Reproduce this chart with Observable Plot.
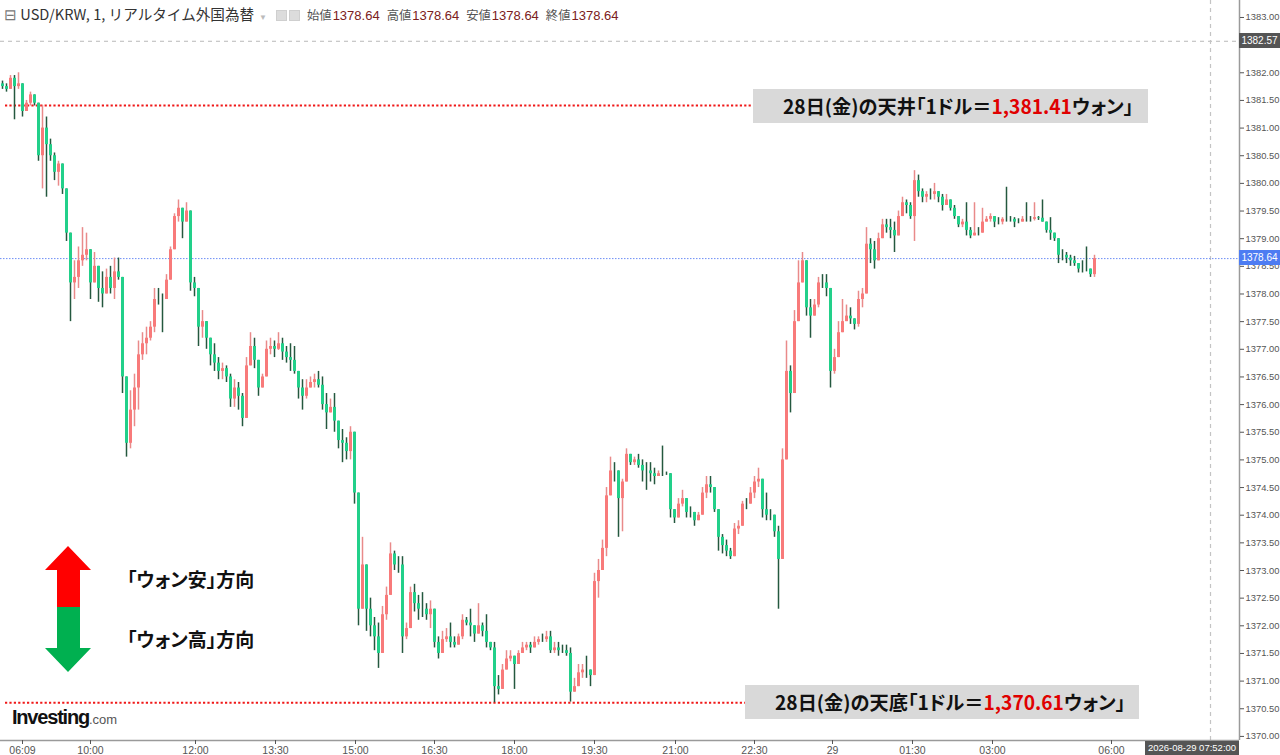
<!DOCTYPE html>
<html><head><meta charset="utf-8">
<script src="https://cdn.jsdelivr.net/npm/d3@7"></script>
<script src="https://cdn.jsdelivr.net/npm/@observablehq/plot@0.6"></script>
<style>
html,body{margin:0;padding:0;background:#fff;}
#wrap{position:relative;width:1280px;height:755px;overflow:hidden;font-family:"Liberation Sans",Arial,sans-serif;}
#wrap svg{position:absolute;left:0;top:0;}
.ov{position:absolute;white-space:nowrap;}
#hdr{left:4px;top:4px;font-size:12px;color:#333;font-family:"Liberation Sans",Arial,sans-serif;line-height:20px;}
#hdr .t{font-family:"Noto Sans CJK JP","Noto Sans",sans-serif;font-size:14.6px;color:#333;}
#hdr .k{color:#555;margin-left:7px;font-family:"Noto Sans CJK JP",sans-serif;font-size:12.3px;}
#hdr .v{color:#7b2020;margin-left:1px;font-size:13px;}
#hdr .ic{display:inline-block;width:9px;height:9px;background:#dcdcdc;border:1px solid #cfcfcf;margin-left:2px;vertical-align:-1px;}
#hdr .car{color:#bbb;font-size:8px;margin:0 7px 0 5px;}
.ann{background:#d9d9d9;font-family:"Noto Sans CJK JP",sans-serif;font-weight:700;font-size:19.2px;color:#111;line-height:34px;height:34px;box-sizing:border-box;font-feature-settings:"palt";}
.ann .r{color:#e00000;}
.leg{font-family:"Noto Sans CJK JP",sans-serif;font-weight:700;font-size:19px;color:#111;font-feature-settings:"palt";}
.albl{font-size:10px;color:#fff;text-align:center;line-height:15px;height:15px;}
#logo{left:12px;top:706px;font-family:"Liberation Sans",Arial,sans-serif;font-weight:700;font-size:20px;letter-spacing:-1.2px;color:#111;}
#logo span{font-weight:400;font-size:13px;color:#555;letter-spacing:0;}
</style></head><body><div id="wrap"></div>
<script>
// ---- data: 4-px bar buckets of USD/KRW 1-minute candles ----
const highs = [
1381.85,1381.80,1381.95,1381.95,1382.00,1381.80,1381.50,1381.65,1381.60,1381.35,
1381.41,1381.20,1380.80,1380.55,1380.40,1380.30,1379.85,1378.90,1378.60,1378.85,
1379.20,1379.10,1378.75,1378.75,1378.50,1378.40,1378.45,1378.50,1378.65,1378.65,
1378.25,1375.85,1376.25,1376.55,1377.15,1377.30,1377.40,1377.50,1378.10,1378.10,
1378.00,1378.35,1378.85,1379.45,1379.70,1379.55,1379.65,1379.35,1378.30,1378.10,
1377.70,1377.50,1377.20,1377.10,1376.85,1376.75,1376.70,1376.55,1376.45,1376.40,
1376.20,1376.85,1377.30,1377.20,1376.60,1376.55,1377.15,1377.20,1377.15,1377.30,
1377.20,1377.05,1377.10,1377.05,1376.55,1376.45,1376.45,1376.50,1376.55,1376.60,
1376.50,1376.20,1376.10,1376.20,1375.60,1375.55,1375.40,1375.60,1375.50,1374.30,
1373.60,1372.70,1372.50,1372.15,1372.05,1372.35,1372.70,1373.50,1373.35,1373.25,
1373.25,1372.05,1372.70,1372.75,1372.55,1372.60,1372.40,1372.45,1372.20,1371.80,
1371.90,1371.95,1372.05,1371.80,1371.85,1372.20,1372.15,1372.30,1372.00,1372.40,
1372.05,1372.20,1371.70,1371.70,1371.10,1371.30,1371.55,1371.55,1371.45,1371.55,
1371.70,1371.70,1371.70,1371.80,1371.80,1371.85,1371.90,1371.90,1371.70,1371.70,
1371.65,1371.65,1371.60,1371.05,1371.30,1371.30,1371.45,1371.20,1372.95,1373.20,
1373.55,1374.50,1375.05,1374.95,1374.65,1374.65,1375.20,1375.05,1375.05,1375.10,
1375.00,1374.95,1374.95,1374.85,1374.80,1375.25,1374.78,1374.45,1374.05,1374.30,
1374.45,1374.15,1374.15,1374.05,1374.05,1374.50,1374.70,1374.70,1374.30,1374.10,
1373.65,1373.55,1373.40,1373.85,1373.90,1374.25,1374.30,1374.50,1374.70,1374.85,
1374.65,1374.40,1374.10,1373.90,1373.80,1375.20,1377.15,1376.70,1377.70,1378.60,
1378.75,1378.10,1377.90,1377.90,1378.30,1378.35,1378.35,1378.00,1377.00,1377.50,
1377.90,1377.80,1377.75,1377.50,1378.05,1378.10,1379.20,1379.00,1378.95,1379.10,
1379.35,1379.35,1379.35,1379.30,1379.50,1379.75,1379.70,1379.65,1380.23,1380.15,
1379.90,1379.85,1379.90,1380.00,1379.85,1379.80,1379.80,1379.62,1379.60,1379.35,
1379.35,1379.65,1379.20,1379.65,1379.20,1379.55,1379.40,1379.45,1379.40,1379.38,
1379.38,1379.93,1379.40,1379.38,1379.36,1379.40,1379.65,1379.40,1379.65,1379.40,
1379.70,1379.30,1379.38,1379.10,1378.85,1378.80,1378.75,1378.70,1378.68,1378.55,
1378.60,1378.85,1378.45,1378.70
];
const lows = [
1381.70,1381.65,1381.70,1381.15,1381.70,1381.20,1381.30,1381.40,1381.40,1380.40,
1379.90,1379.75,1380.40,1380.05,1379.95,1379.80,1378.95,1377.50,1377.90,1378.10,
1378.50,1378.60,1377.90,1378.30,1377.85,1377.75,1378.00,1378.00,1377.90,1378.25,
1376.20,1375.05,1375.20,1375.60,1375.90,1376.80,1376.90,1377.15,1377.30,1377.80,
1377.30,1377.90,1378.30,1379.00,1379.30,1379.00,1379.30,1378.05,1377.95,1377.05,
1377.20,1377.00,1376.70,1376.60,1376.45,1376.45,1376.40,1375.95,1375.95,1375.90,
1375.60,1375.85,1376.90,1376.65,1376.15,1376.30,1376.65,1376.90,1376.85,1376.98,
1376.80,1376.75,1376.60,1376.55,1376.10,1375.90,1376.10,1376.30,1376.30,1376.30,
1375.90,1375.55,1375.85,1375.50,1375.20,1374.95,1375.00,1375.00,1374.20,1372.00,
1372.50,1371.90,1371.80,1371.55,1371.23,1371.90,1372.10,1372.90,1373.00,1372.95,
1371.50,1371.75,1372.05,1372.25,1372.10,1372.15,1372.10,1371.95,1371.60,1371.40,
1371.60,1371.70,1371.60,1371.60,1371.70,1371.75,1372.00,1371.80,1371.70,1371.85,
1371.80,1371.60,1371.55,1370.61,1370.75,1370.85,1371.25,1371.35,1370.85,1371.30,
1371.50,1371.55,1371.50,1371.60,1371.65,1371.70,1371.70,1371.50,1371.50,1371.45,
1371.50,1371.45,1370.62,1370.80,1371.00,1371.05,1371.05,1370.90,1371.70,1372.50,
1373.10,1373.25,1374.50,1374.60,1373.60,1373.70,1374.95,1374.90,1374.90,1374.85,
1374.60,1374.45,1374.60,1374.55,1374.70,1374.70,1374.72,1373.95,1373.85,1374.05,
1374.15,1373.95,1373.95,1373.80,1373.90,1374.05,1374.30,1374.40,1374.05,1373.35,
1373.30,1373.25,1373.20,1373.50,1373.65,1373.90,1374.10,1374.25,1374.30,1374.50,
1373.95,1373.90,1373.90,1373.60,1372.30,1373.20,1375.70,1375.85,1376.55,1377.55,
1378.35,1377.60,1377.20,1377.65,1377.75,1378.10,1377.95,1376.30,1376.55,1377.00,
1377.30,1377.50,1377.45,1377.35,1377.40,1377.75,1378.35,1378.55,1378.45,1378.85,
1379.00,1379.10,1379.00,1378.75,1379.15,1379.50,1379.45,1379.35,1378.95,1379.75,
1379.65,1379.65,1379.70,1379.70,1379.65,1379.50,1379.60,1379.50,1379.35,1379.20,
1379.20,1379.05,1379.00,1379.05,1379.05,1379.15,1379.30,1379.30,1379.20,1379.25,
1379.25,1379.30,1379.30,1379.20,1379.27,1379.30,1379.30,1379.30,1379.32,1379.33,
1379.30,1379.10,1378.97,1378.95,1378.55,1378.60,1378.55,1378.50,1378.50,1378.38,
1378.38,1378.40,1378.30,1378.30
];
const closes = [
1381.75,1381.70,1381.90,1381.75,1381.80,1381.30,1381.45,1381.60,1381.45,1380.50,
1381.00,1380.70,1380.50,1380.20,1380.35,1379.90,1379.10,1378.20,1378.30,1378.60,
1378.70,1378.80,1378.20,1378.50,1378.10,1378.00,1378.30,1378.10,1378.40,1378.30,
1376.50,1375.30,1375.90,1376.30,1376.90,1377.10,1377.20,1377.40,1377.90,1377.90,
1377.90,1378.25,1378.80,1379.40,1379.55,1379.30,1379.50,1378.20,1378.10,1377.40,
1377.50,1377.20,1376.90,1376.75,1376.60,1376.65,1376.50,1376.10,1376.30,1376.15,
1375.75,1376.70,1377.05,1376.80,1376.30,1376.50,1377.00,1377.05,1377.00,1377.10,
1376.95,1376.85,1376.80,1376.60,1376.30,1376.15,1376.30,1376.40,1376.45,1376.35,
1376.00,1375.85,1375.95,1375.70,1375.35,1375.30,1375.15,1375.50,1374.40,1372.30,
1373.10,1372.30,1372.00,1371.80,1371.50,1372.20,1372.55,1373.30,1373.10,1373.10,
1371.80,1371.95,1372.60,1372.40,1372.30,1372.30,1372.20,1372.30,1371.70,1371.50,
1371.75,1371.80,1371.70,1371.65,1371.80,1372.10,1372.05,1372.00,1371.85,1372.00,
1371.90,1371.70,1371.60,1370.90,1370.85,1371.20,1371.40,1371.45,1371.30,1371.50,
1371.60,1371.65,1371.60,1371.70,1371.75,1371.75,1371.80,1371.55,1371.60,1371.55,
1371.55,1371.50,1370.80,1370.90,1371.15,1371.20,1371.20,1371.10,1372.80,1373.00,
1373.40,1374.35,1374.80,1374.80,1374.30,1374.60,1375.10,1374.95,1375.00,1374.90,
1374.80,1374.80,1374.75,1374.70,1374.75,1374.75,1374.75,1374.10,1373.95,1374.20,
1374.30,1374.05,1374.05,1373.90,1374.00,1374.40,1374.55,1374.50,1374.10,1373.60,
1373.45,1373.35,1373.25,1373.75,1373.80,1374.20,1374.20,1374.40,1374.60,1374.65,
1374.10,1374.00,1374.00,1373.70,1373.20,1375.00,1376.60,1376.20,1377.50,1378.20,
1378.60,1377.75,1377.60,1377.80,1378.20,1378.20,1378.10,1376.60,1376.85,1377.30,
1377.50,1377.60,1377.55,1377.45,1377.90,1378.00,1378.90,1378.80,1378.60,1379.00,
1379.25,1379.20,1379.15,1379.05,1379.40,1379.65,1379.60,1379.40,1380.05,1379.85,
1379.75,1379.80,1379.80,1379.85,1379.75,1379.60,1379.70,1379.55,1379.40,1379.25,
1379.30,1379.15,1379.05,1379.10,1379.10,1379.30,1379.35,1379.40,1379.30,1379.30,
1379.35,1379.35,1379.35,1379.30,1379.30,1379.35,1379.35,1379.35,1379.38,1379.37,
1379.30,1379.15,1379.10,1379.00,1378.70,1378.70,1378.65,1378.60,1378.55,1378.45,
1378.45,1378.45,1378.35,1378.64
];
const firstOpen = 1381.80;

// axis ticks (x in bar-bucket units)
const xTickPos    = [5, 22, 48.25, 68.25, 88.25, 108, 128, 148, 168.25, 188, 207.5, 227.5, 247.5, 277.25];
const xTickLabels = ["06:09","10:00","12:00","13:30","15:00","16:30","18:00","19:30","21:00","22:30","29","01:30","03:00","06:00"];
const yTickValues = [1370.0,1370.5,1371.0,1371.5,1372.0,1372.5,1373.0,1373.5,1374.0,1374.5,1375.0,1375.5,1376.0,1376.5,
                     1377.0,1377.5,1378.0,1378.5,1379.0,1379.5,1380.0,1380.5,1381.0,1381.5,1382.0,1383.0];
const lastPrice = 1378.64;
const dayHigh = 1381.41, dayLow = 1370.61;
const crossPrice = 1382.57, crossBar = 302;
const crossTime = "2026-08-29 07:52:00";
const highLine = {x1: 0.75, x2: 187.6};
const lowLine  = {x1: 0.75, x2: 185.8};

// ---- build ----
const candles = closes.map((c, i) => {
  const o = i === 0 ? firstOpen : closes[i - 1];
  return {i, o, c, h: Math.max(highs[i], o, c), l: Math.min(lows[i], o, c), up: c > o};
});
const xDomain = [-0.5, 309.25];
const yDomain = [1369.926, 1383.307];
const labelOf = new Map(xTickPos.map((p, k) => [p, xTickLabels[k]]));

const chart = Plot.plot({
  width: 1280, height: 755,
  marginTop: 0, marginRight: 41, marginBottom: 15, marginLeft: 0,
  style: {fontFamily: "'Liberation Sans', Arial, sans-serif", background: "transparent", overflow: "visible"},
  x: {domain: xDomain, axis: null},
  y: {domain: yDomain, axis: null},
  marks: [
    Plot.ruleY([crossPrice], {stroke: "#b8b8b8", strokeDasharray: "4,4"}),
    Plot.ruleX([crossBar], {stroke: "#c4c4c4", strokeDasharray: "4,4", strokeWidth: 1.2}),
    Plot.ruleY([lastPrice], {stroke: "#6d8ef5", strokeDasharray: "1.5,1.5"}),
    Plot.ruleY([{y: dayHigh, ...highLine}], {y: "y", x1: "x1", x2: "x2", stroke: "#f01818", strokeWidth: 2, strokeDasharray: "2.2,2.2"}),
    Plot.ruleY([{y: dayLow, ...lowLine}], {y: "y", x1: "x1", x2: "x2", stroke: "#f01818", strokeWidth: 2, strokeDasharray: "2.2,2.2"}),
    Plot.ruleX(candles, {x: "i", y1: "l", y2: "h", stroke: d => d.up ? "#e98a8a" : "#24583f", strokeWidth: 1.5}),
    Plot.ruleX(candles, {x: "i", y1: "o", y2: "c", stroke: d => d.up ? "#f87a7a" : "#22d08a", strokeWidth: 3}),
    Plot.ruleY([yDomain[0]], {stroke: "#9a9a9a", strokeWidth: 1.5}),
    Plot.ruleX([xDomain[1]], {stroke: "#9a9a9a", strokeWidth: 1.5}),
    Plot.axisY({ticks: yTickValues, anchor: "right", tickFormat: d => d.toFixed(2), tickSize: 4, tickPadding: 2, fontSize: 9.4, color: "#555", label: null}),
    Plot.axisX({ticks: xTickPos, anchor: "bottom", tickFormat: d => labelOf.get(d), tickSize: 4, tickPadding: 2, fontSize: 10.5, color: "#555", label: null})
  ]
});
const wrap = document.getElementById("wrap");
wrap.appendChild(chart);

const sx = chart.scale("x"), sy = chart.scale("y");
function add(html, cls, css) {
  const d = document.createElement("div");
  d.className = "ov " + (cls || "");
  d.innerHTML = html;
  Object.assign(d.style, css);
  wrap.appendChild(d);
  return d;
}
// header
add('<span class="t"><span style="color:#777">⊟</span> USD/KRW, 1, リアルタイム外国為替</span><span class="car">▼</span><span class="ic"></span><span class="ic"></span>' +
    '<span class="k">始値</span><span class="v">' + lastPrice.toFixed(2) + '</span>' +
    '<span class="k">高値</span><span class="v">' + lastPrice.toFixed(2) + '</span>' +
    '<span class="k">安値</span><span class="v">' + lastPrice.toFixed(2) + '</span>' +
    '<span class="k">終値</span><span class="v">' + lastPrice.toFixed(2) + '</span>', "", {}).id = "hdr";

// axis value boxes
add(crossPrice.toFixed(2), "albl", {left: "1239px", width: "41px", top: (sy.apply(crossPrice) - 8) + "px", background: "#555"});
add(lastPrice.toFixed(2), "albl", {left: "1239px", width: "41px", top: (sy.apply(lastPrice) - 8) + "px", background: "#4d7cf2"});
add(crossTime, "albl", {left: "1145px", width: "94px", top: "741px", height: "14px", lineHeight: "14px", background: "#555", fontSize: "9.5px"});

// annotations
const fmt = d3.format(",.2f");
add('28日(金)の天井「1ドル＝<span class="r">' + fmt(dayHigh) + '</span>ウォン」', "ann",
    {left: "753px", top: (sy.apply(dayHigh) - 16) + "px", width: "395px", paddingLeft: "30px"});
add('28日(金)の天底「1ドル＝<span class="r">' + fmt(dayLow) + '</span>ウォン」', "ann",
    {left: "745px", top: (sy.apply(dayLow) - 17) + "px", width: "394px", paddingLeft: "30px"});

// legend arrows
add('<svg width="50" height="130" viewBox="0 0 50 130"><polygon points="23,0 46,24 35,24 35,61 12,61 12,24 0,24" fill="#ff0000"/>' +
    '<polygon points="12,61 35,61 35,102 46,102 23,126 0,102 12,102" fill="#00b050"/></svg>', "", {left: "45px", top: "546px"});
add("「ウォン安」方向", "leg", {left: "127px", top: "565px"});
add("「ウォン高」方向", "leg", {left: "127px", top: "625px"});
add('Investing<span>.com</span>', "", {}).id = "logo";
</script></body></html>
